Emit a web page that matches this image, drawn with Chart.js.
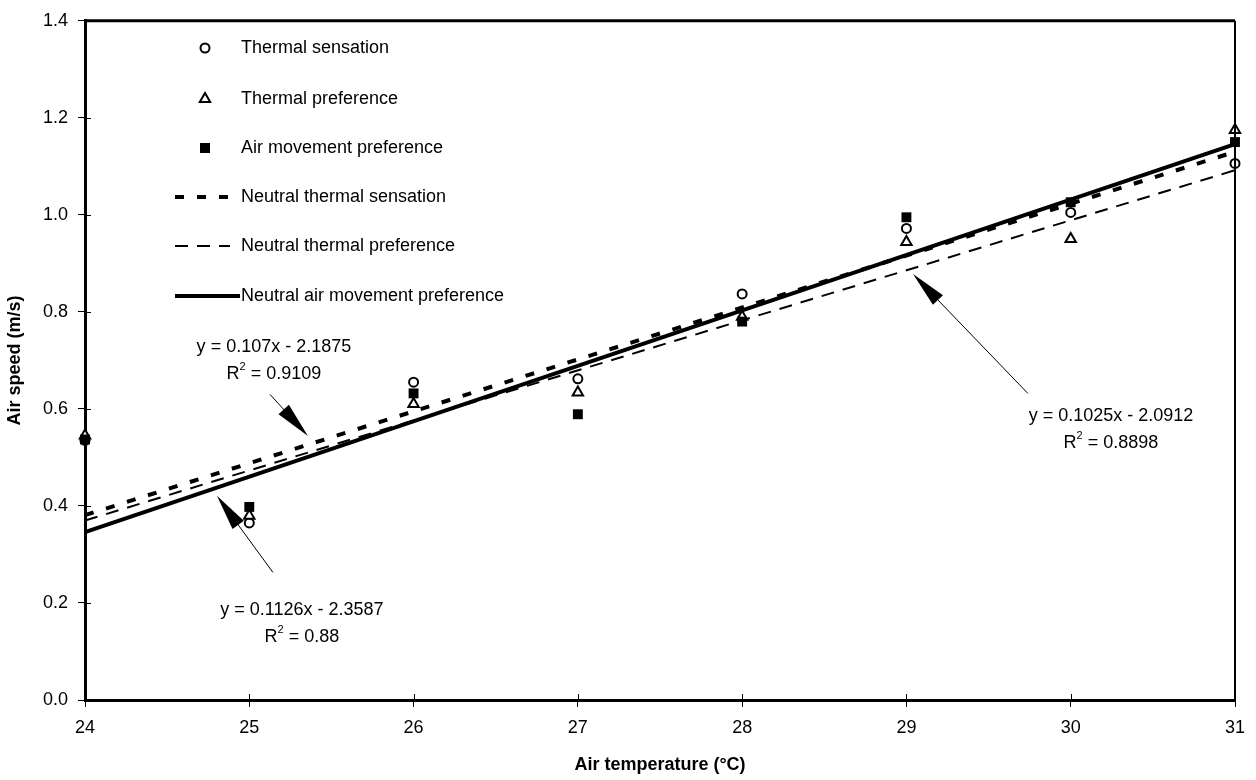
<!DOCTYPE html>
<html><head><meta charset="utf-8">
<script src="https://cdn.jsdelivr.net/npm/chart.js@4/dist/chart.umd.min.js"></script>
<style>html,body{margin:0;padding:0;background:#fff}#wrap{width:1256px;height:780px}</style>
</head><body><div id="wrap"><canvas id="c" width="1256" height="780"></canvas></div>
<script>
// ---- data ----
const temps = [24, 25, 26, 27, 28, 29, 30, 31];
const thermalSensation      = [0.535, 0.365, 0.655, 0.662, 0.837, 0.972, 1.005, 1.106];
const thermalPreference     = [0.545, 0.380, 0.610, 0.634, 0.790, 0.944, 0.950, 1.175];
const airMovementPreference = [0.537, 0.398, 0.632, 0.589, 0.780, 0.995, 1.026, 1.150];
const fitX          = [24, 31];
const fitSensation  = [0.381, 1.130];
const fitPreference = [0.370, 1.092];
const fitAirMove    = [0.346, 1.146];
const seriesLabels = ['Thermal sensation', 'Thermal preference', 'Air movement preference',
  'Neutral thermal sensation', 'Neutral thermal preference', 'Neutral air movement preference'];
const eqLabels = ['y = 0.107x - 2.1875', 'y = 0.1126x - 2.3587', 'y = 0.1025x - 2.0912'];
const r2Labels = ['0.9109', '0.88', '0.8898'];
const xTitle = 'Air temperature (°C)';
const yTitle = 'Air speed (m/s)';

const FONT = '"Liberation Sans", Arial, Helvetica, sans-serif';
const pts = (ys) => temps.map((t, i) => ({x: t, y: ys[i]}));
const fit = (ys) => fitX.map((t, i) => ({x: t, y: ys[i]}));

// annotation placement (data coordinates)
const notes = [
  {cx: 25.15, cy: 0.728, from: [25.126, 0.630], to: [25.357, 0.544]},
  {cx: 25.32, cy: 0.186, from: [25.144, 0.263], to: [24.803, 0.421]},
  {cx: 30.245, cy: 0.585, from: [29.739, 0.632], to: [29.040, 0.878]}
];

function drawMarker(ctx, kind, x, y) {
  ctx.save();
  ctx.lineWidth = 2; ctx.strokeStyle = '#000'; ctx.fillStyle = '#fff';
  ctx.beginPath();
  if (kind === 'circle') { ctx.arc(x, y, 4.5, 0, Math.PI * 2); ctx.fill(); ctx.stroke(); }
  else if (kind === 'triangle') {
    const r = 6;
    ctx.moveTo(x, y - r); ctx.lineTo(x + r * 0.866, y + r * 0.5); ctx.lineTo(x - r * 0.866, y + r * 0.5);
    ctx.closePath(); ctx.fill(); ctx.stroke();
  } else { ctx.fillStyle = '#000'; ctx.fillRect(x - 5, y - 5, 10, 10); }
  ctx.restore();
}

const overlay = {
  id: 'overlay',
  afterDraw(chart) {
    const ctx = chart.ctx, a = chart.chartArea;
    const sx = chart.scales.x, sy = chart.scales.y;
    ctx.save();
    // frame top & right
    ctx.strokeStyle = '#000';
    ctx.lineWidth = 3;
    ctx.beginPath(); ctx.moveTo(a.left, a.top); ctx.lineTo(a.right, a.top); ctx.stroke();
    ctx.lineWidth = 2;
    ctx.beginPath(); ctx.moveTo(a.right, a.top); ctx.lineTo(a.right, a.bottom); ctx.stroke();
    // inner halves of tick marks (ticks cross the axes)
    ctx.lineWidth = 1;
    sy.ticks.forEach(t => { const p = Math.round(sy.getPixelForValue(t.value)) + 0.5;
      ctx.beginPath(); ctx.moveTo(a.left, p); ctx.lineTo(a.left + 6, p); ctx.stroke(); });
    sx.ticks.forEach(t => { const p = Math.round(sx.getPixelForValue(t.value)) + 0.5;
      ctx.beginPath(); ctx.moveTo(p, a.bottom); ctx.lineTo(p, a.bottom - 6); ctx.stroke(); });

    // legend
    const ly = [48, 99, 148, 197, 246, 296];
    const kinds = ['circle', 'triangle', 'rect'];
    ctx.font = '18px ' + FONT; ctx.fillStyle = '#000'; ctx.textBaseline = 'middle'; ctx.textAlign = 'left';
    for (let i = 0; i < 6; i++) {
      const y = ly[i];
      if (i < 3) drawMarker(ctx, kinds[i], 205, y);
      else {
        const ds = chart.data.datasets[i];
        ctx.save();
        ctx.strokeStyle = '#000'; ctx.lineWidth = ds.borderWidth;
        ctx.setLineDash(ds.borderDash || []);
        ctx.beginPath(); ctx.moveTo(175, y); ctx.lineTo(i === 5 ? 240 : 230, y); ctx.stroke();
        ctx.restore();
      }
      ctx.fillText(seriesLabels[i], 241, y);
    }

    // annotations
    notes.forEach((n, i) => {
      const cx = sx.getPixelForValue(n.cx), cy = sy.getPixelForValue(n.cy);
      ctx.font = '18px ' + FONT; ctx.textAlign = 'center'; ctx.textBaseline = 'middle'; ctx.fillStyle = '#000';
      ctx.fillText(eqLabels[i], cx, cy);
      const y2 = cy + 27;
      const rest = ' = ' + r2Labels[i];
      ctx.font = '18px ' + FONT; const wR = ctx.measureText('R').width, wRest = ctx.measureText(rest).width;
      ctx.font = '11px ' + FONT; const w2 = ctx.measureText('2').width;
      let x0 = cx - (wR + w2 + wRest) / 2;
      ctx.textAlign = 'left';
      ctx.font = '18px ' + FONT; ctx.fillText('R', x0, y2);
      ctx.font = '11px ' + FONT; ctx.fillText('2', x0 + wR, y2 - 7);
      ctx.font = '18px ' + FONT; ctx.fillText(rest, x0 + wR + w2, y2);
      // arrow
      const fx = sx.getPixelForValue(n.from[0]), fy = sy.getPixelForValue(n.from[1]);
      const tx = sx.getPixelForValue(n.to[0]), ty = sy.getPixelForValue(n.to[1]);
      const ang = Math.atan2(ty - fy, tx - fx);
      const L = 36, W = 7;
      ctx.strokeStyle = '#000'; ctx.lineWidth = 1;
      ctx.beginPath(); ctx.moveTo(fx, fy); ctx.lineTo(tx - Math.cos(ang) * L * 0.8, ty - Math.sin(ang) * L * 0.8); ctx.stroke();
      const bx = tx - Math.cos(ang) * L, by = ty - Math.sin(ang) * L;
      ctx.beginPath();
      ctx.moveTo(tx, ty);
      ctx.lineTo(bx + Math.sin(ang) * W, by - Math.cos(ang) * W);
      ctx.lineTo(bx - Math.sin(ang) * W, by + Math.cos(ang) * W);
      ctx.closePath(); ctx.fillStyle = '#000'; ctx.fill();
    });
    ctx.restore();
  }
};

new Chart(document.getElementById('c'), {
  type: 'scatter',
  data: {
    datasets: [
      {label: seriesLabels[0], data: pts(thermalSensation), pointStyle: 'circle', pointRadius: 4.5,
       backgroundColor: '#fff', borderColor: '#000', borderWidth: 2, clip: false, order: 3},
      {label: seriesLabels[1], data: pts(thermalPreference), pointStyle: 'triangle', pointRadius: 6,
       backgroundColor: '#fff', borderColor: '#000', borderWidth: 2, clip: false, order: 2},
      {label: seriesLabels[2], data: pts(airMovementPreference), pointStyle: 'rect', pointRadius: 7,
       backgroundColor: '#000', borderColor: '#000', borderWidth: 0, clip: false, order: 1},
      {type: 'line', label: seriesLabels[3], data: fit(fitSensation), borderColor: '#000', borderWidth: 4,
       borderDash: [9, 13], pointRadius: 0, fill: false, clip: false, order: 6},
      {type: 'line', label: seriesLabels[4], data: fit(fitPreference), borderColor: '#000', borderWidth: 2,
       borderDash: [13, 9], pointRadius: 0, fill: false, clip: false, order: 5},
      {type: 'line', label: seriesLabels[5], data: fit(fitAirMove), borderColor: '#000', borderWidth: 4,
       pointRadius: 0, fill: false, clip: false, order: 4}
    ]
  },
  options: {
    responsive: false, animation: false, devicePixelRatio: 1,
    layout: {padding: {top: 17, right: 21, left: 0, bottom: 0}},
    plugins: {legend: {display: false}, tooltip: {enabled: false}},
    scales: {
      x: {
        type: 'linear', min: 24, max: 31,
        ticks: {stepSize: 1, color: '#000', font: {family: FONT, size: 18}, padding: 10},
        grid: {drawOnChartArea: false, tickLength: 7, color: '#000', lineWidth: 1},
        border: {color: '#000', width: 3},
        title: {display: true, text: xTitle, color: '#000', font: {family: FONT, size: 18, weight: 'bold'}, padding: {top: 6, bottom: 4}},
        afterFit: (s) => { s.height = 80; }
      },
      y: {
        min: 0, max: 1.4,
        ticks: {stepSize: 0.2, color: '#000', font: {family: FONT, size: 18}, padding: 10,
          callback: (v) => Number(v).toFixed(1)},
        grid: {drawOnChartArea: false, tickLength: 7, color: '#000', lineWidth: 1},
        border: {color: '#000', width: 3},
        title: {display: true, text: yTitle, color: '#000', font: {family: FONT, size: 18, weight: 'bold'}, padding: {top: 4, bottom: 6}},
        afterFit: (s) => { s.width = 85; }
      }
    }
  },
  plugins: [overlay]
});
</script>
</body></html>
